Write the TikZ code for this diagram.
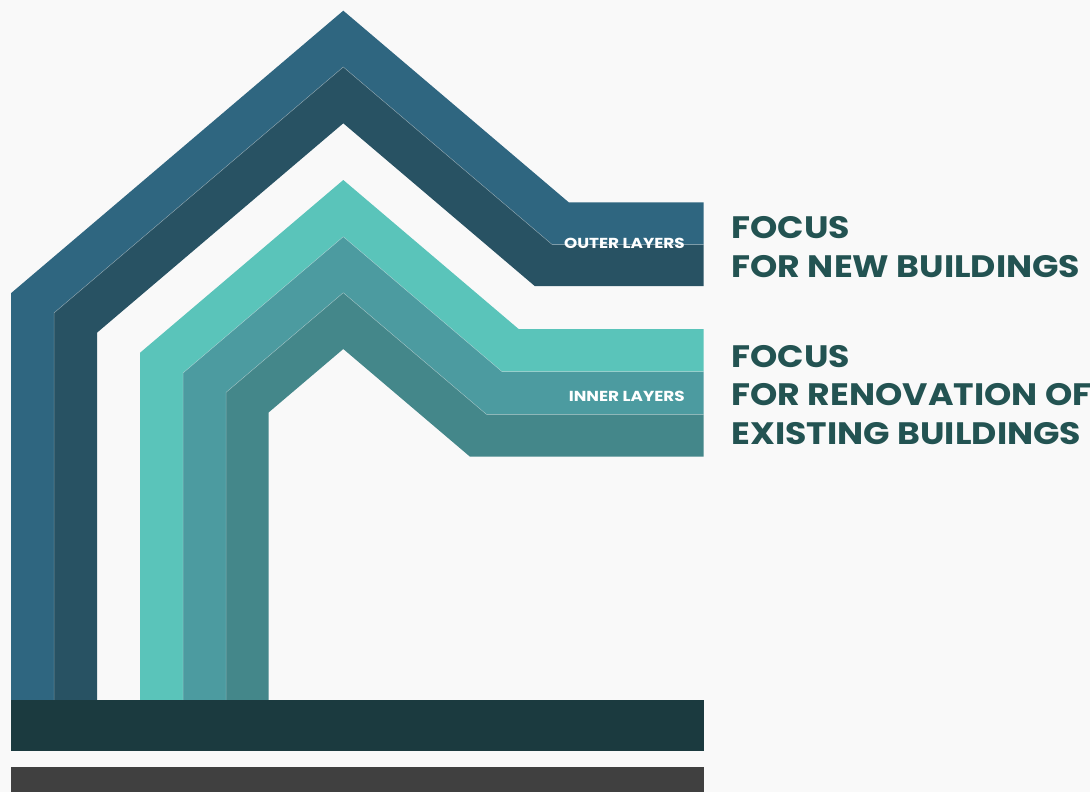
\documentclass[tikz,border=0pt]{standalone}
\usepackage{fontspec}
\newfontfamily\popbig{Poppins}[FakeStretch=1.12]
\newfontfamily\popsmall{Poppins}[FakeStretch=1.16]
\definecolor{bgc}{HTML}{F9F9F9}
\definecolor{bandA}{HTML}{2F6680}
\definecolor{bandB}{HTML}{285263}
\definecolor{bandC}{HTML}{5AC4BA}
\definecolor{bandD}{HTML}{4C9BA0}
\definecolor{bandE}{HTML}{44878A}
\definecolor{basec}{HTML}{1B3A3F}
\definecolor{grayc}{HTML}{404040}
\definecolor{textc}{HTML}{235352}
\tikzset{
  seam/.style={draw=white, draw opacity=0.35, line width=0.5pt},
  bigtext/.style={anchor=base west, inner sep=0pt, text=textc, font=\popbig\bfseries\fontsize{31}{38}\selectfont},
  smalltext/.style={anchor=base east, inner sep=0pt, text=white, font=\popsmall\bfseries\fontsize{14.5}{16}\selectfont},
}
\begin{document}
\begin{tikzpicture}[x=1pt,y=-1pt]
\useasboundingbox (0,0) rectangle (1090,792);
\fill[bgc] (0,0) rectangle (1090,792);
% outer layers
\fill[bandA] (11,700) -- (11,293.2) -- (343.3,10.7) -- (568.7,202.3) -- (703.5,202.3) -- (703.5,244.5) -- (552.1,244.5) -- (343.3,67) -- (54,312.9) -- (54,700) -- cycle;
\fill[bandB] (54,700) -- (54,312.9) -- (343.3,67) -- (552.1,244.5) -- (703.5,244.5) -- (703.5,286) -- (534.7,286) -- (343.3,123.3) -- (97,332.7) -- (97,700) -- cycle;
\draw[seam] (54,700) -- (54,312.9) -- (343.3,67) -- (552.1,244.5) -- (703.5,244.5);
% inner layers
\fill[bandC] (140,700) -- (140,352.8) -- (343.3,180) -- (518.6,329) -- (703.5,329) -- (703.5,371.7) -- (502.1,371.7) -- (343.3,236.7) -- (183,373) -- (183,700) -- cycle;
\fill[bandD] (183,700) -- (183,373) -- (343.3,236.7) -- (502.1,371.7) -- (703.5,371.7) -- (703.5,414.3) -- (486.4,414.3) -- (343.3,292.7) -- (226,392.4) -- (226,700) -- cycle;
\fill[bandE] (226,700) -- (226,392.4) -- (343.3,292.7) -- (486.4,414.3) -- (703.5,414.3) -- (703.5,456.7) -- (470,456.7) -- (343.3,349) -- (268.7,412.4) -- (268.7,700) -- cycle;
\draw[seam] (183,700) -- (183,373) -- (343.3,236.7) -- (502.1,371.7) -- (703.5,371.7);
\draw[seam] (226,700) -- (226,392.4) -- (343.3,292.7) -- (486.4,414.3) -- (703.5,414.3);
% base bars
\fill[basec] (11,700) rectangle (703.5,750.7);
\fill[grayc] (11,767) rectangle (703.5,792);
% labels
\node[smalltext] (outer) at (685,248.3) {OUTER LAYERS};
\node[smalltext] (inner) at (685,401) {INNER LAYERS};
\node[bigtext] (f1) at (731.5,238.3) {FOCUS};
\node[bigtext] (f1b) at (731.5,277.7) {FOR NEW BUILDINGS};
\node[bigtext] (f2) at (731.5,367) {FOCUS};
\node[bigtext] (f2b) at (731.5,405.5) {FOR RENOVATION OF};
\node[bigtext] (f2c) at (731.5,444) {EXISTING BUILDINGS};
\end{tikzpicture}
\end{document}
